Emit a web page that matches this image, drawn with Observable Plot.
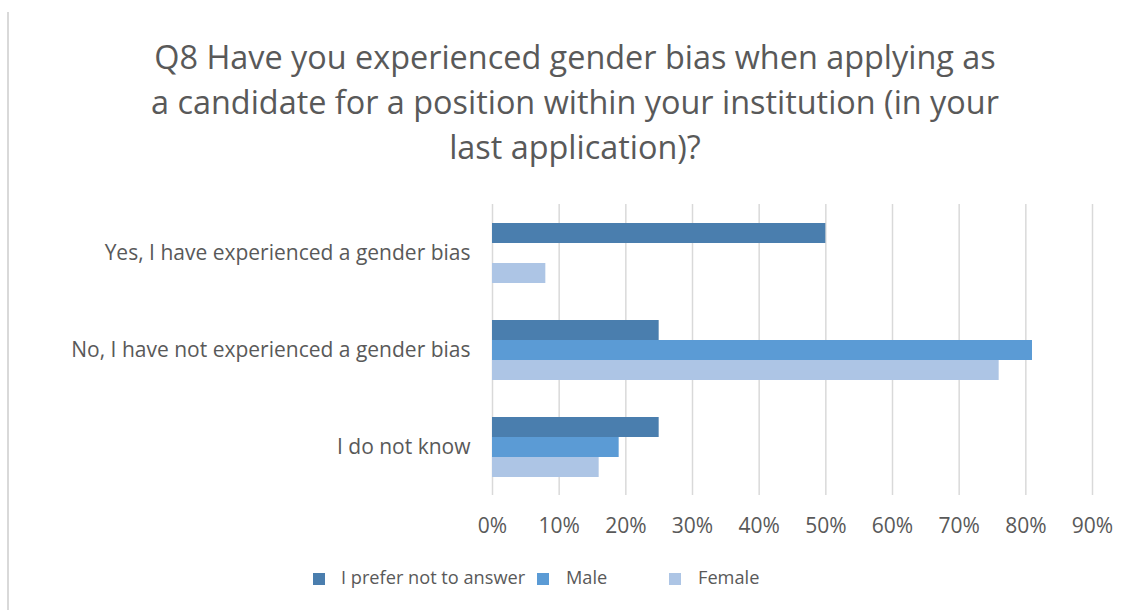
<!DOCTYPE html>
<html>
<head>
<meta charset="utf-8">
<script src="https://cdn.jsdelivr.net/npm/d3@7"></script>
<script src="https://cdn.jsdelivr.net/npm/@observablehq/plot@0.6"></script>
<style>
  body { margin: 0; background: #fff; }
  #wrap { position: relative; width: 1131px; height: 610px; overflow: hidden; font-family: "Open Sans", sans-serif; color: #595959; }
  #frame { position: absolute; left: 7px; top: 12px; width: 2px; height: 598px; background: #d9d9d9; }
  #title { position: absolute; left: 0; width: 1150px; top: 34px; text-align: center; font-size: 32.4px; line-height: 45px; color: #595959; }
  #legend { position: absolute; top: 565px; left: 0; font-size: 18.2px; color: #595959; }
  .li { position: absolute; white-space: nowrap; }
  .sw { position: absolute; width: 12px; height: 12px; top: 8px; }
  #chart { position: absolute; left: 0; top: 0; }
</style>
</head>
<body>
<div id="wrap">
  <div id="frame"></div>
  <div id="chart"></div>
  <div id="title"></div>
  <div id="legend"></div>
</div>
<script>
const titleLines = [
  "Q8 Have you experienced gender bias when applying as",
  "a candidate for a position within your institution (in your",
  "last application)?"
];
const categories = [
  "Yes, I have experienced a gender bias",
  "No, I have not experienced a gender bias",
  "I do not know"
];
const seriesNames = ["I prefer not to answer", "Male", "Female"];
const seriesColors = ["#4a7eae", "#5b9bd5", "#adc5e5"];
const preferValues = [0.50, 0.25, 0.25];
const maleValues = [0.00, 0.81, 0.19];
const femaleValues = [0.08, 0.76, 0.16];
const xTicks = [0, 0.1, 0.2, 0.3, 0.4, 0.5, 0.6, 0.7, 0.8, 0.9];

const seriesValues = [preferValues, maleValues, femaleValues];
const data = [];
categories.forEach((c, i) => {
  seriesNames.forEach((s, j) => {
    data.push({category: c, series: s, value: seriesValues[j][i]});
  });
});

document.getElementById("title").innerHTML = titleLines.join("<br>");

const chart = Plot.plot({
  width: 1131,
  height: 610,
  marginLeft: 492,
  marginRight: 39,
  marginTop: 203,
  marginBottom: 115,
  style: {fontFamily: "'Open Sans', sans-serif", fontSize: "21px", color: "#595959", background: "transparent"},
  x: {domain: [0, 0.9], ticks: xTicks, tickFormat: d => Math.round(d * 100) + "%", label: null, tickSize: 0, tickPadding: 23},
  y: {domain: seriesNames, paddingInner: 0, paddingOuter: 0.815, axis: null},
  fy: {domain: categories, padding: 0, label: null, tickSize: 0, tickPadding: 22},
  color: {domain: seriesNames, range: seriesColors},
  marks: [
    Plot.ruleX(xTicks, {stroke: "#d9d9d9", strokeWidth: 1.5}),
    Plot.barX(data, {x: "value", y: "series", fy: "category", fill: "series"})
  ]
});
document.getElementById("chart").appendChild(chart);

const legendPos = [{sw: 313, tx: 341}, {sw: 537, tx: 566}, {sw: 669, tx: 698}];
const legend = document.getElementById("legend");
seriesNames.forEach((s, i) => {
  const sw = document.createElement("div");
  sw.className = "sw";
  sw.style.left = legendPos[i].sw + "px";
  sw.style.background = seriesColors[i];
  legend.appendChild(sw);
  const t = document.createElement("div");
  t.className = "li";
  t.style.left = legendPos[i].tx + "px";
  t.textContent = s;
  legend.appendChild(t);
});
</script>
</body>
</html>
